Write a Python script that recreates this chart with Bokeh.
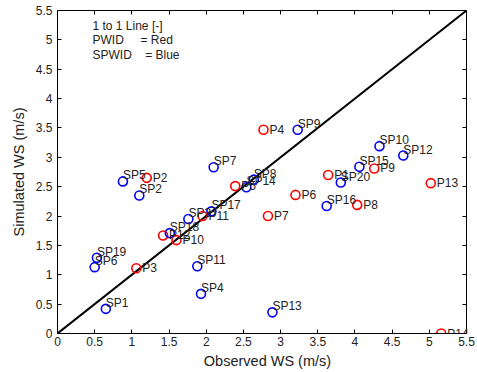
from bokeh.plotting import figure
from bokeh.models import ColumnDataSource, LinearAxis, FixedTicker, Range1d, Label
from bokeh.embed import file_html
from bokeh.resources import INLINE

# PWID (red)
p_names = ["P1", "P2", "P3", "P4", "P5", "P6", "P7", "P8", "P9", "P10", "P11", "P12", "P13", "P14"]
p_obs = [3.64, 1.20, 1.06, 2.77, 2.39, 3.20, 2.83, 4.03, 4.26, 1.60, 1.95, 1.42, 5.02, 5.16]
p_sim = [2.70, 2.65, 1.11, 3.47, 2.51, 2.36, 2.00, 2.19, 2.81, 1.59, 2.00, 1.67, 2.56, 0.00]

# SPWID (blue)
sp_names = ["SP1", "SP2", "SP3", "SP4", "SP5", "SP6", "SP7", "SP8", "SP9", "SP10",
            "SP11", "SP12", "SP13", "SP14", "SP15", "SP16", "SP17", "SP18", "SP19", "SP20"]
sp_obs = [0.65, 1.10, 1.76, 1.93, 0.88, 0.50, 2.10, 2.64, 3.23, 4.33,
          1.88, 4.65, 2.89, 2.54, 4.06, 3.62, 2.07, 1.51, 0.53, 3.81]
sp_sim = [0.42, 2.35, 1.95, 0.675, 2.59, 1.13, 2.83, 2.62, 3.47, 3.19,
          1.145, 3.03, 0.36, 2.49, 2.84, 2.17, 2.08, 1.71, 1.29, 2.57]

one_to_one = [0.0, 5.5]
ticks = [0, 0.5, 1, 1.5, 2, 2.5, 3, 3.5, 4, 4.5, 5, 5.5]
tick_labels = {0: "0", 0.5: "0.5", 1: "1", 1.5: "1.5", 2: "2", 2.5: "2.5", 3: "3",
               3.5: "3.5", 4: "4", 4.5: "4.5", 5: "5", 5.5: "5.5"}
NB = "\u00a0"
legend_lines = ["1 to 1 Line [-]", "PWID" + NB * 5 + "= Red", "SPWID" + NB * 4 + "= Blue"]

FONT = "Liberation Sans"
AX_MAX = 5.5
# frame runs to the canvas edge so that labels past 5.5 (P14) are not clipped
X_END = AX_MAX * 420.0 / 409.0

p = figure(width=477, height=372, output_backend="svg", toolbar_location=None,
           x_range=Range1d(0, X_END), y_range=Range1d(0, AX_MAX),
           x_axis_location=None, y_axis_location=None,
           min_border_left=57, min_border_right=0, min_border_top=10, min_border_bottom=39)
p.grid.visible = False
p.outline_line_color = None
p.background_fill_color = "white"
p.border_fill_color = "white"

def make_axis(show_labels, label=None):
    ax = LinearAxis(ticker=FixedTicker(ticks=ticks))
    ax.major_tick_in = 4
    ax.major_tick_out = 0
    ax.minor_tick_in = 0
    ax.minor_tick_out = 0
    ax.axis_line_color = "black"
    ax.major_tick_line_color = "black"
    ax.major_label_overrides = tick_labels
    ax.major_label_text_font = FONT
    ax.major_label_text_font_size = "12px"
    ax.major_label_text_color = "#222222"
    if not show_labels:
        ax.major_label_text_font_size = "0px"
        ax.major_label_text_alpha = 0
    if label:
        ax.axis_label = label
        ax.axis_label_text_font = FONT
        ax.axis_label_text_font_size = "14.5px"
        ax.axis_label_text_font_style = "normal"
        ax.axis_label_text_color = "#222222"
    return ax

bx = make_axis(True, "Observed WS (m/s)")
bx.bounds = (0, AX_MAX)
bx.major_label_standoff = 3
bx.axis_label_standoff = 4
p.add_layout(bx, "below")
ly = make_axis(True, "Simulated WS (m/s)")
ly.major_label_standoff = 5
ly.axis_label_standoff = 6
p.add_layout(ly, "left")
ty = make_axis(False)
ty.bounds = (0, AX_MAX)
p.add_layout(ty, "above")
# right-hand box edge at x = 5.5, ticks pointing into the plot
ry = make_axis(False)
ry.fixed_location = AX_MAX
ry.major_tick_in = 0
ry.major_tick_out = 4
p.add_layout(ry, "left")

# 1:1 line
p.line(one_to_one, one_to_one, line_color="black", line_width=2)

psrc = ColumnDataSource(dict(x=p_obs, y=p_sim, name=p_names))
spsrc = ColumnDataSource(dict(x=sp_obs, y=sp_sim, name=sp_names))

p.scatter("x", "y", source=psrc, size=9, marker="circle", fill_color=None,
          line_color="red", line_width=1.6)
p.scatter("x", "y", source=spsrc, size=9, marker="circle", fill_color=None,
          line_color="blue", line_width=1.6)

for n, xv, yv in zip(p_names, p_obs, p_sim):
    p.add_layout(Label(x=xv, y=yv, text=n, x_offset=6, y_offset=0,
                       text_font=FONT, text_font_size="12px", text_color="#222222",
                       text_baseline="middle", text_align="left"))
for n, xv, yv in zip(sp_names, sp_obs, sp_sim):
    p.add_layout(Label(x=xv, y=yv, text=n, x_offset=0, y_offset=6,
                       text_font=FONT, text_font_size="12px", text_color="#222222",
                       text_baseline="middle", text_align="left"))

for i, t in enumerate(legend_lines):
    p.add_layout(Label(x=35, y=308 - 14.5 * i, x_units="screen", y_units="screen",
                       text=t, text_font=FONT, text_font_size="12px",
                       text_color="#222222", text_baseline="middle"))

open("out.html", "w").write(file_html(p, INLINE))
